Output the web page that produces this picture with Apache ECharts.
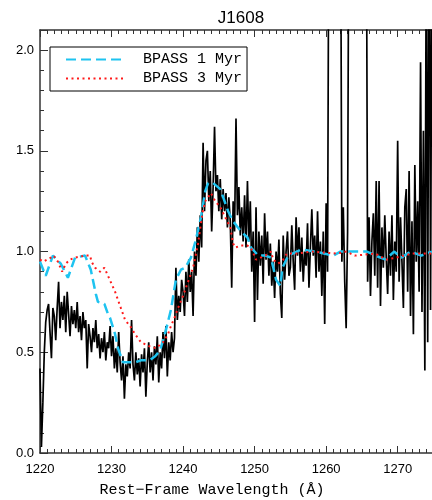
<!DOCTYPE html>
<html>
<head>
<meta charset="utf-8">
<script src="https://cdn.jsdelivr.net/npm/echarts@6/dist/echarts.min.js"></script>
<style>
  html, body { margin: 0; padding: 0; background: #fff; }
  #chart { width: 432px; height: 500px; }
</style>
</head>
<body>
<div id="chart"></div>
<script>
// observed spectrum, sampled every 0.2 A from 1220.0 A (values > 2.1 are off the top)
const fluxStart = 1220.0;
const fluxStep = 0.2;
const flux = [
    0.42, 0.03, 0.25, 0.50, 0.65, 0.71, 0.74, 0.60, 0.47, 0.72,
    0.68, 0.56, 0.72, 0.85, 0.62, 0.75, 0.66, 0.78, 0.60, 0.80,
    0.69, 0.58, 0.73, 0.64, 0.71, 0.62, 0.75, 0.60, 0.68, 0.56,
    0.70, 0.62, 0.66, 0.42, 0.64, 0.58, 0.50, 0.62, 0.55, 0.66,
    0.52, 0.59, 0.47, 0.57, 0.50, 0.60, 0.46, 0.55, 0.52, 0.63,
    0.48, 0.58, 0.42, 0.52, 0.40, 0.60, 0.45, 0.36, 0.48, 0.27,
    0.44, 0.38, 0.50, 0.42, 0.66, 0.44, 0.36, 0.50, 0.39, 0.47,
    0.33, 0.49, 0.40, 0.52, 0.28, 0.45, 0.55, 0.40, 0.50, 0.36,
    0.53, 0.44, 0.58, 0.35, 0.50, 0.42, 0.60, 0.47, 0.63, 0.38,
    0.55, 0.46, 0.60, 0.50, 0.57, 0.92, 0.66, 0.78, 0.70, 0.86,
    0.80, 0.68, 0.90, 0.75, 0.96, 0.80, 0.90, 0.68, 1.00, 0.88,
    1.12, 0.95, 1.18, 1.02, 1.54, 1.20, 1.45, 1.50, 1.25, 1.40,
    1.10, 1.32, 1.62, 1.30, 1.38, 1.20, 1.36, 1.16, 1.31, 1.20,
    1.29, 1.12, 1.27, 1.15, 0.82, 1.25, 1.10, 1.66, 1.18, 1.32,
    1.08, 1.22, 1.05, 1.28, 1.02, 1.35, 1.05, 1.25, 0.90, 1.10,
    0.65, 1.22, 0.76, 1.10, 0.93, 1.08, 0.84, 1.19, 0.96, 1.10,
    0.88, 1.04, 0.83, 0.95, 0.77, 1.00, 0.90, 1.06, 0.79, 0.67,
    1.08, 0.86, 1.00, 1.10, 0.88, 0.92, 1.13, 0.95, 0.81, 1.17,
    0.98, 1.12, 0.90, 1.07, 0.85, 1.00, 0.93, 1.14, 0.82, 1.02,
    1.21, 0.98, 1.08, 0.87, 1.20, 0.90, 1.05, 0.78, 1.10, 0.64,
    1.24, 0.90, 3.00, 3.00, 3.00, 3.00, 3.00, 3.00, 3.00, 3.00,
    3.00, 0.95, 1.22, 0.85, 0.62, 1.10, 3.00, 3.00, 3.00, 3.00,
    3.00, 3.00, 3.00, 3.00, 3.00, 3.00, 3.00, 3.00, 3.00, 0.85,
    1.17, 0.78, 1.05, 1.19, 0.88, 1.35, 0.82, 1.35, 0.73, 1.12,
    0.92, 1.18, 0.97, 0.79, 1.10, 0.88, 1.18, 0.76, 1.05, 0.90,
    1.55, 0.85, 1.17, 0.95, 0.72, 1.22, 1.31, 0.80, 1.40, 0.68,
    1.15, 0.59, 1.43, 0.95, 1.25, 0.80, 1.94, 0.70, 1.60, 0.41,
    2.60, 0.55, 3.00, 0.71, 2.80
];

// BPASS 1 Myr model
const model1Wave = [
    1220.0, 1220.8, 1221.8, 1222.9, 1223.9, 1224.9, 1226.3, 1227.1, 1227.8, 1228.1,
    1229.0, 1229.5, 1229.8, 1230.5, 1230.9, 1231.6, 1233.3, 1234.1, 1235.3, 1236.1,
    1236.8, 1237.6, 1238.3, 1239.0, 1239.7, 1240.3, 1241.1, 1241.8, 1242.5, 1243.1,
    1243.5, 1244.2, 1245.2, 1245.6, 1246.3, 1247.0, 1248.1, 1249.0, 1249.5, 1250.5,
    1251.5, 1252.3, 1253.0, 1253.6, 1253.9, 1254.7, 1256.5, 1258.5, 1261.0, 1262.0,
    1263.0, 1264.5, 1265.7, 1266.9, 1268.3, 1269.5, 1270.5, 1271.8, 1273.3, 1274.8
];
const model1Flux = [
    0.95, 0.88, 0.98, 0.94, 0.87, 0.97, 0.98, 0.91, 0.79, 0.75,
    0.74, 0.69, 0.67, 0.59, 0.52, 0.45, 0.45, 0.46, 0.46, 0.48,
    0.51, 0.61, 0.71, 0.86, 0.91, 0.92, 0.97, 1.06, 1.17, 1.30,
    1.34, 1.34, 1.31, 1.27, 1.20, 1.15, 1.10, 1.07, 1.02, 0.98,
    0.98, 0.97, 0.86, 0.83, 0.92, 0.98, 1.01, 1.00, 0.98, 1.00,
    1.00, 1.00, 1.00, 0.98, 0.96, 1.00, 0.97, 1.00, 0.98, 1.00
];

// BPASS 3 Myr model
const model3Wave = [
    1220.0, 1220.5, 1221.5, 1221.9, 1222.5, 1223.1, 1223.6, 1224.2, 1224.9, 1226.3,
    1227.0, 1227.2, 1227.7, 1228.4, 1229.0, 1229.5, 1230.0, 1230.5, 1231.3, 1231.9,
    1232.6, 1233.3, 1234.1, 1235.3, 1236.2, 1237.2, 1237.9, 1238.3, 1238.9, 1239.3,
    1240.0, 1240.8, 1241.4, 1242.1, 1242.7, 1243.1, 1243.5, 1243.9, 1244.5, 1245.2,
    1245.9, 1246.6, 1247.0, 1247.3, 1248.1, 1249.0, 1249.6, 1250.2, 1251.5, 1252.3,
    1252.6, 1253.3, 1254.0, 1254.5, 1256.0, 1258.0, 1261.5, 1262.8, 1264.0, 1266.9,
    1268.4, 1269.8, 1272.0, 1274.8
];
const model3Flux = [
    0.96, 0.95, 0.97, 0.98, 0.95, 0.90, 0.94, 0.96, 0.97, 0.98,
    0.98, 0.95, 0.92, 0.90, 0.92, 0.88, 0.84, 0.80, 0.72, 0.66,
    0.63, 0.59, 0.55, 0.53, 0.52, 0.55, 0.59, 0.63, 0.68, 0.72,
    0.78, 0.86, 0.92, 1.04, 1.19, 1.25, 1.27, 1.29, 1.25, 1.22,
    1.17, 1.12, 1.04, 1.02, 1.03, 1.03, 1.01, 0.96, 0.98, 1.00,
    0.96, 0.94, 0.96, 0.99, 0.99, 1.00, 0.99, 1.00, 0.98, 0.99,
    0.96, 0.97, 0.99, 0.99
];

const xTicks = [1220, 1230, 1240, 1250, 1260, 1270];

const pairs = (xs, ys) => xs.map((x, i) => [x, ys[i]]);
const fluxData = flux.map((f, i) => [+(fluxStart + i * fluxStep).toFixed(1), f]);

const axisColor = '#333';
const labelFont = 'Liberation Sans';
const textFont = 'Liberation Mono';

let chart = echarts.init(document.getElementById('chart'), null, { renderer: 'canvas' });
chart.setOption({
    animation: false,
    title: {
        text: 'J1608',
        left: 236,
        textAlign: 'center',
        top: 5,
        textStyle: { fontFamily: labelFont, fontSize: 17, fontWeight: 'normal', color: '#000' }
    },
    grid: { left: 40, right: 0, top: 30, bottom: 47, outerBoundsMode: 'none', containLabel: false },
    legend: {
        orient: 'vertical',
        left: 50,
        top: 47,
        padding: [5, 5, 5, 15],
        itemGap: 4,
        itemWidth: 60,
        itemHeight: 14,
        borderColor: '#000',
        borderWidth: 1,
        borderRadius: 0,
        itemStyle: { opacity: 0, borderWidth: 0 },
        textStyle: { fontFamily: textFont, fontSize: 15, color: '#000', padding: [0, 0, 0, 12] },
        data: ['BPASS 1 Myr', 'BPASS 3 Myr']
    },
    xAxis: [
        {
            type: 'value',
            min: 1220,
            max: 1274.8,
            interval: 10,
            position: 'bottom',
            name: 'Rest\u2212Frame Wavelength (\u00c5)',
            nameLocation: 'middle',
            nameGap: 30,
            nameTextStyle: { fontFamily: textFont, fontSize: 15, color: '#000', padding: [0, 48, 0, 0] },
            axisLine: { show: true, onZero: false, lineStyle: { color: axisColor, width: 1.5 } },
            axisTick: { show: true, inside: true, length: 7, lineStyle: { color: axisColor } },
            minorTick: { show: true, splitNumber: 10, length: 4, lineStyle: { color: axisColor } },
            splitLine: { show: false },
            axisLabel: {
                fontFamily: labelFont, fontSize: 13, color: '#000', margin: 10,
                showMaxLabel: false,
                formatter: v => xTicks.includes(v) ? String(v) : ''
            }
        },
        {
            type: 'value',
            min: 1220,
            max: 1274.8,
            interval: 10,
            position: 'top',
            axisLine: { show: true, onZero: false, lineStyle: { color: axisColor, width: 1.5 } },
            axisTick: { show: true, inside: true, length: 7, lineStyle: { color: axisColor } },
            minorTick: { show: true, splitNumber: 10, length: 4, lineStyle: { color: axisColor } },
            splitLine: { show: false },
            axisLabel: { show: false }
        }
    ],
    yAxis: {
        type: 'value',
        min: 0,
        max: 2.1,
        interval: 0.5,
        axisLine: { show: true, onZero: false, lineStyle: { color: axisColor, width: 1.5 } },
        axisTick: { show: true, inside: true, length: 8, lineStyle: { color: axisColor } },
        minorTick: { show: true, splitNumber: 5, length: 4, lineStyle: { color: axisColor } },
        splitLine: { show: false },
        axisLabel: {
            fontFamily: labelFont, fontSize: 13, color: '#000', margin: 6,
            showMaxLabel: false,
            formatter: v => v.toFixed(1)
        }
    },
    series: [
        {
            name: 'spectrum',
            type: 'line',
            data: fluxData,
            symbol: 'none',
            clip: true,
            z: 2,
            lineStyle: { color: '#000', width: 1.7 }
        },
        {
            name: 'BPASS 1 Myr',
            type: 'line',
            data: pairs(model1Wave, model1Flux),
            symbol: 'none',
            clip: true,
            z: 3,
            itemStyle: { color: '#1ec3f0' },
            lineStyle: { color: '#1ec3f0', width: 2.5, type: [10, 5] }
        },
        {
            name: 'BPASS 3 Myr',
            type: 'line',
            data: pairs(model3Wave, model3Flux),
            symbol: 'none',
            clip: true,
            z: 4,
            itemStyle: { color: '#ff1a1a' },
            lineStyle: { color: '#ff1a1a', width: 2, type: [2, 3.5] }
        }
    ]
});
</script>
</body>
</html>
